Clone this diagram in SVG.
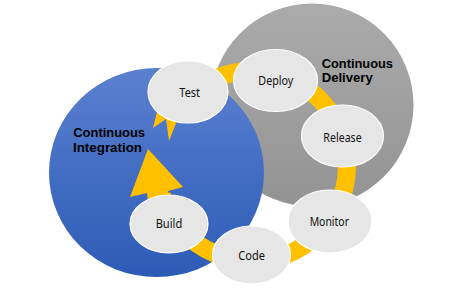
<svg xmlns="http://www.w3.org/2000/svg" width="458" height="294" viewBox="0 0 458 294">
  <defs>
    <linearGradient id="gBlue" x1="0" y1="0" x2="0" y2="1">
      <stop offset="0" stop-color="#5b80d0"/>
      <stop offset="1" stop-color="#2c5bb6"/>
    </linearGradient>
    <linearGradient id="gGray" x1="0" y1="0" x2="0" y2="1">
      <stop offset="0" stop-color="#ababab"/>
      <stop offset="1" stop-color="#939393"/>
    </linearGradient>
    <style>
      .node { fill: #e6e6e6; stroke: #ffffff; stroke-width: 1.2; }
      .lbl { font-family: "Noto Sans", "Open Sans", "Liberation Sans", sans-serif; font-size: 12.5px; fill: #111111; text-anchor: middle; }
      .title { font-family: "Liberation Sans", Arial, sans-serif; font-size: 13px; font-weight: bold; fill: #000000; }
      .band { fill: none; stroke: #ffc000; stroke-width: 18; }
      .yel { fill: #ffc000; }
    </style>
  </defs>

  <g id="cd-circle">
    <circle cx="312" cy="105" r="101.5" fill="url(#gGray)"/>
  </g>
  <g id="ci-circle">
    <ellipse cx="156.5" cy="172.6" rx="107.5" ry="104.5" fill="url(#gBlue)"/>
  </g>

  <g id="connectors">
    <path class="band" d="M185.3,98.4 A95,95 0 1 1 161.5,195"/>
    <polygon class="yel" points="148,149 183,187 168,191 172,215 150,218 147,193 130,197"/>
    <polygon class="yel" points="153,128 158,108 182,108 169,141 166,119"/>
  </g>

  <g id="ci-label">
    <text class="title" x="73.3" y="136.7" textLength="71.7" lengthAdjust="spacingAndGlyphs">Continuous</text>
    <text class="title" x="73" y="151.8" textLength="69" lengthAdjust="spacingAndGlyphs">Integration</text>
  </g>
  <g id="cd-label">
    <text class="title" x="321.7" y="67.7" textLength="71.3" lengthAdjust="spacingAndGlyphs">Continuous</text>
    <text class="title" x="321.7" y="82.3" textLength="51" lengthAdjust="spacingAndGlyphs">Delivery</text>
  </g>

  <g id="node-test">
    <ellipse class="node" cx="188" cy="92" rx="40" ry="31"/>
    <text class="lbl" x="189.7" y="96.7" textLength="20.7" lengthAdjust="spacingAndGlyphs">Test</text>
  </g>
  <g id="node-deploy">
    <ellipse class="node" cx="275.5" cy="80.5" rx="42" ry="31"/>
    <text class="lbl" x="275.8" y="85" textLength="35" lengthAdjust="spacingAndGlyphs">Deploy</text>
  </g>
  <g id="node-release">
    <ellipse class="node" cx="342.5" cy="136" rx="41" ry="31"/>
    <text class="lbl" x="342.5" y="141.7" textLength="38.3" lengthAdjust="spacingAndGlyphs">Release</text>
  </g>
  <g id="node-monitor">
    <ellipse class="node" cx="330" cy="221.5" rx="42" ry="31.5"/>
    <text class="lbl" x="329.3" y="226" textLength="39.3" lengthAdjust="spacingAndGlyphs">Monitor</text>
  </g>
  <g id="node-code">
    <ellipse class="node" cx="251.5" cy="255" rx="39" ry="29"/>
    <text class="lbl" x="251.7" y="259.7" textLength="26.7" lengthAdjust="spacingAndGlyphs">Code</text>
  </g>
  <g id="node-build">
    <ellipse class="node" cx="169" cy="224" rx="39" ry="29"/>
    <text class="lbl" x="169" y="228" textLength="26.7" lengthAdjust="spacingAndGlyphs">Build</text>
  </g>
</svg>
